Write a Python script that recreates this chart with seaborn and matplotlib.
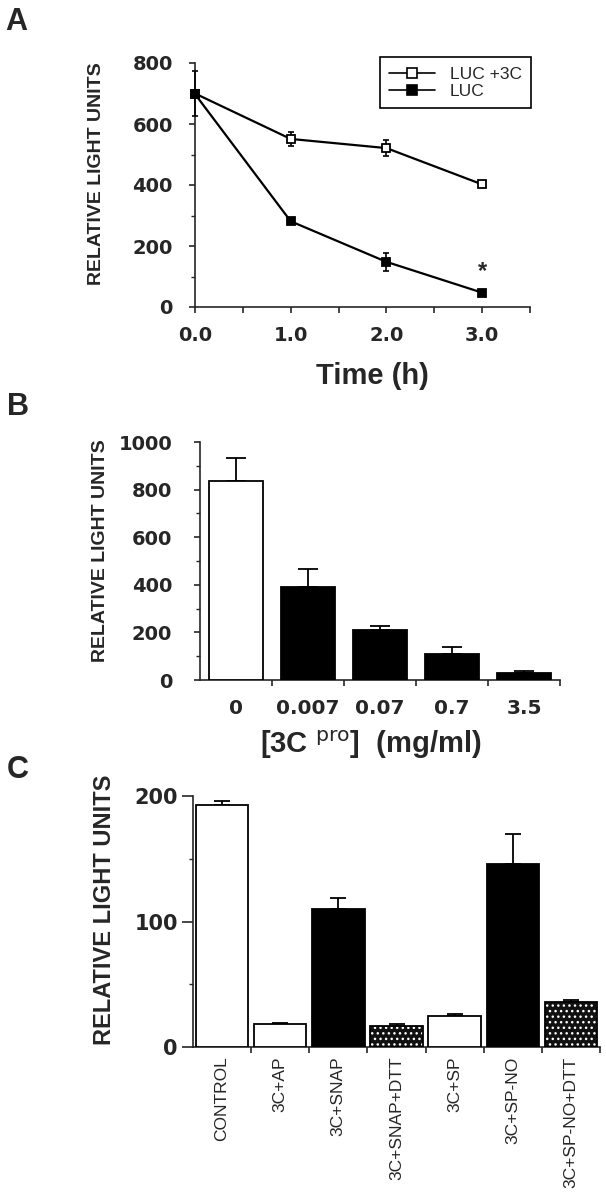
import numpy as np
import pandas as pd
import matplotlib
matplotlib.use("Agg")
import matplotlib.pyplot as plt
import matplotlib.colors as mcolors
from matplotlib.lines import Line2D
from matplotlib.ticker import MultipleLocator, FixedLocator
import seaborn as sns

# ---------------- data ----------------
# Panel A
time_h = [0.0, 1.0, 2.0, 3.0]
luc_3c = [700, 551, 521, 402]
luc_3c_err = [75, 22, 25, 10]
luc = [698, 281, 148, 47]
luc_err = [6, 5, 30, 5]
series_names = ["LUC +3C", "LUC"]

# Panel B
conc_labels = ["0", "0.007", "0.07", "0.7", "3.5"]
conc_vals = [838, 392, 210, 108, 31]
conc_err = [96, 74, 18, 29, 8]
conc_fill = ["white", "black", "black", "black", "black"]

# Panel C
treat_labels = ["CONTROL", "3C+AP", "3C+SNAP", "3C+SNAP+DTT", "3C+SP",
                "3C+SP-NO", "3C+SP-NO+DTT"]
treat_vals = [193, 18, 110, 17, 25, 146, 36]
treat_err = [3, 1.5, 9, 1, 1.5, 24, 1.5]
treat_fill = ["white", "white", "black", "dots", "white", "black", "dots"]

# ---------------- style ----------------
sns.set_style("ticks")
plt.rcParams["font.family"] = ["Liberation Sans", "DejaVu Sans"]
plt.rcParams["axes.linewidth"] = 1.2
plt.rcParams["hatch.linewidth"] = 1.0

fig = plt.figure(figsize=(6.06, 11.99), dpi=100)

W, H = 606.0, 1199.0


def add_axes_px(x0, x1, ytop, ybot):
    return fig.add_axes([x0 / W, 1 - ybot / H, (x1 - x0) / W, (ybot - ytop) / H])


def style_ticklabels(ax, size):
    for lbl in ax.get_yticklabels():
        lbl.set_fontfamily("DejaVu Sans")
        lbl.set_fontweight("bold")
        lbl.set_fontsize(size)


ylab = "RELATIVE LIGHT UNITS"

# ---------------- Panel A ----------------
axA = add_axes_px(195, 530, 63, 307)
dfA = pd.DataFrame({
    "time": time_h * 2,
    "value": luc_3c + luc,
    "series": [series_names[0]] * 4 + [series_names[1]] * 4,
})
sns.lineplot(data=dfA[dfA.series == series_names[0]], x="time", y="value",
             color="black", lw=1.6, marker="s", markersize=6,
             markerfacecolor="white", markeredgecolor="black", mew=1.3,
             ax=axA, zorder=4, clip_on=False)
sns.lineplot(data=dfA[dfA.series == series_names[1]], x="time", y="value",
             color="black", lw=1.6, marker="s", markersize=6,
             markerfacecolor="black", markeredgecolor="black", mew=1.3,
             ax=axA, zorder=4, clip_on=False)
axA.errorbar(time_h, luc_3c, yerr=luc_3c_err, fmt="none", ecolor="black",
             elinewidth=1.2, capsize=2.5, capthick=1.2, zorder=3, clip_on=False)
axA.errorbar(time_h, luc, yerr=luc_err, fmt="none", ecolor="black",
             elinewidth=1.2, capsize=2.5, capthick=1.2, zorder=3, clip_on=False)
axA.set_xlim(0, 3.5)
axA.set_ylim(0, 800)
axA.xaxis.set_major_locator(FixedLocator(time_h))
axA.xaxis.set_minor_locator(FixedLocator([0.5, 1.5, 2.5, 3.5]))
axA.set_xticklabels(["0.0", "1.0", "2.0", "3.0"], fontfamily="DejaVu Sans",
                    fontweight="bold", fontsize=14)
axA.yaxis.set_major_locator(MultipleLocator(200))
axA.yaxis.set_minor_locator(MultipleLocator(100))
axA.tick_params(axis="y", which="major", length=4, width=1.2, pad=12)
axA.tick_params(axis="y", which="minor", length=3, width=1.0)
axA.tick_params(axis="x", which="major", length=4, width=1.2, pad=10)
axA.tick_params(axis="x", which="minor", length=4, width=1.2)
style_ticklabels(axA, 14)
axA.set_xlabel("Time (h)", fontsize=21, fontweight="bold")
axA.xaxis.set_label_coords(0.531, -0.225)
axA.set_ylabel(ylab, fontsize=14, fontweight="bold")
axA.yaxis.set_label_coords(-0.269, 0.545)
axA.text(3.0, 78, "*", ha="center", va="bottom", fontsize=17, fontweight="bold")
sns.despine(ax=axA)
handles = [
    Line2D([], [], color="black", lw=1.2, marker="s", markersize=6.5,
           markerfacecolor="white", markeredgecolor="black", mew=1.2),
    Line2D([], [], color="black", lw=1.2, marker="s", markersize=6.5,
           markerfacecolor="black", markeredgecolor="black", mew=1.2),
]
leg = axA.legend(handles, series_names, loc="upper left",
                 bbox_to_anchor=(0.552, 1.025), fontsize=12.5, frameon=True,
                 fancybox=False, handlelength=2.6, handletextpad=0.86,
                 labelspacing=0.12, borderpad=0.55, borderaxespad=0.0)
leg.get_frame().set_edgecolor("black")
leg.get_frame().set_linewidth(1.2)
leg.get_frame().set_alpha(1)

# ---------------- Panel B ----------------
axB = add_axes_px(200, 560, 442, 680)
dfB = pd.DataFrame({"conc": conc_labels, "value": conc_vals})
sns.barplot(data=dfB, x="conc", y="value", hue="conc", order=conc_labels,
            hue_order=conc_labels, palette=dict(zip(conc_labels, conc_fill)),
            width=0.75, edgecolor="black", linewidth=1.3, errorbar=None,
            legend=False, ax=axB, zorder=3)
axB.errorbar(range(len(conc_labels)), conc_vals,
             yerr=[np.zeros(len(conc_err)), conc_err], fmt="none",
             ecolor="black", elinewidth=1.3, capsize=7, capthick=1.3, zorder=2)
axB.set_xlim(-0.5, 4.5)
axB.set_ylim(0, 1000)
axB.yaxis.set_major_locator(MultipleLocator(200))
axB.yaxis.set_minor_locator(MultipleLocator(100))
axB.xaxis.set_minor_locator(FixedLocator([0.5, 1.5, 2.5, 3.5, 4.5]))
axB.tick_params(axis="y", which="major", length=4, width=1.2, pad=16)
axB.tick_params(axis="y", which="minor", length=3, width=1.0)
axB.tick_params(axis="x", which="major", length=0, pad=14)
axB.tick_params(axis="x", which="minor", length=4, width=1.2)
axB.set_xticks(range(len(conc_labels)))
axB.set_xticklabels(conc_labels, fontfamily="DejaVu Sans", fontweight="bold",
                    fontsize=14.5)
style_ticklabels(axB, 14)
axB.set_xlabel(r"[3C $^{\mathrm{pro}}$]  (mg/ml)", fontsize=21,
               fontweight="bold")
axB.xaxis.set_label_coords(0.475, -0.205)
axB.set_ylabel(ylab, fontsize=14, fontweight="bold")
axB.yaxis.set_label_coords(-0.253, 0.542)
sns.despine(ax=axB)

# ---------------- Panel C ----------------
axC = add_axes_px(193, 600, 796, 1047)
dfC = pd.DataFrame({"treat": treat_labels, "value": treat_vals})
face = {"white": "white", "black": "black", "dots": "#111111"}
sns.barplot(data=dfC, x="treat", y="value", hue="treat", order=treat_labels,
            hue_order=treat_labels,
            palette={t: face[f] for t, f in zip(treat_labels, treat_fill)},
            width=0.9, edgecolor="black", linewidth=1.3, errorbar=None,
            legend=False, ax=axC, zorder=3)
for p, f in zip(axC.patches, treat_fill):
    if f == "dots":
        p.set_hatch("...")
        p._hatch_color = mcolors.to_rgba("white")
axC.errorbar(range(len(treat_labels)), treat_vals,
             yerr=[np.zeros(len(treat_err)), treat_err], fmt="none",
             ecolor="black", elinewidth=1.3, capsize=6, capthick=1.3, zorder=2)
axC.set_xlim(-0.5, 6.5)
axC.set_ylim(0, 200)
axC.yaxis.set_major_locator(MultipleLocator(100))
axC.yaxis.set_minor_locator(MultipleLocator(50))
axC.xaxis.set_minor_locator(FixedLocator([0.5, 1.5, 2.5, 3.5, 4.5, 5.5, 6.5]))
axC.tick_params(axis="y", which="major", length=8, width=1.2, pad=3)
axC.tick_params(axis="y", which="minor", length=3, width=1.0)
axC.tick_params(axis="x", which="major", length=0, pad=7)
axC.tick_params(axis="x", which="minor", length=4, width=1.2)
axC.set_xticks(range(len(treat_labels)))
axC.set_xticklabels(treat_labels, rotation=90, fontsize=12.5, va="top",
                    ha="center")
style_ticklabels(axC, 15)
axC.set_xlabel("")
axC.set_ylabel(ylab, fontsize=17, fontweight="bold")
axC.yaxis.set_label_coords(-0.19, 0.546)
sns.despine(ax=axC)

# ---------------- panel letters ----------------
for letter, (px, py) in {"A": (5, 22), "B": (7, 407), "C": (7, 770)}.items():
    fig.text(px / W, 1 - py / H, letter, fontsize=22, fontweight="bold",
             ha="left", va="center")

fig.savefig("out.png", dpi=100)
